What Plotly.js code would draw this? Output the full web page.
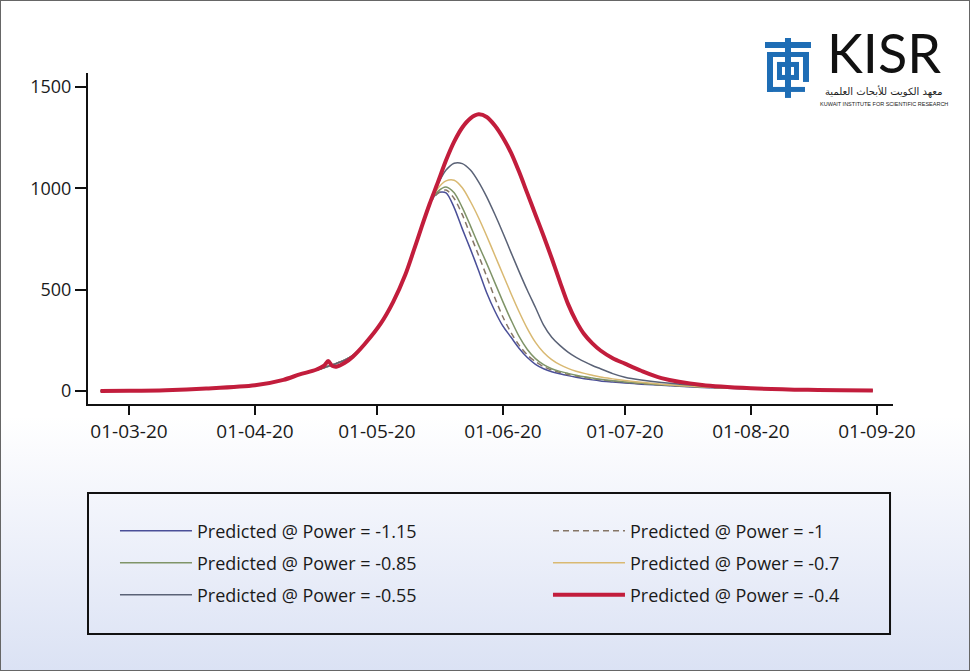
<!DOCTYPE html>
<html><head><meta charset="utf-8">
<script src="https://cdn.plot.ly/plotly-3.0.1.min.js"></script>
<style>
html,body{margin:0;padding:0;}
body{width:970px;height:671px;overflow:hidden;background:linear-gradient(to bottom,#ffffff 0%,#ffffff 62%,#eef1fa 80%,#dbe2f4 100%);}
#chart{position:absolute;left:0;top:0;width:970px;height:671px;}
#frame{position:absolute;left:0;top:0;width:970px;height:671px;box-sizing:border-box;border:1px solid #666;pointer-events:none;}
</style></head>
<body><div id="chart"></div><div id="frame"></div>
<script>
const dates = ['2020-02-23','2020-03-01','2020-03-10','2020-03-20','2020-04-01','2020-04-08','2020-04-12','2020-04-16','2020-04-18','2020-04-19','2020-04-20','2020-04-21','2020-04-23','2020-04-25','2020-04-28','2020-05-02','2020-05-05','2020-05-08','2020-05-10','2020-05-12','2020-05-14','2020-05-16','2020-05-18','2020-05-20','2020-05-22','2020-05-24','2020-05-26','2020-05-28','2020-05-30','2020-06-01','2020-06-03','2020-06-05','2020-06-07','2020-06-09','2020-06-11','2020-06-13','2020-06-15','2020-06-17','2020-06-19','2020-06-21','2020-06-23','2020-06-25','2020-06-28','2020-07-01','2020-07-05','2020-07-10','2020-07-20','2020-08-01','2020-08-15','2020-08-31'];

const powerM115 = [0,1,4,12,28,55,82,103,115,122,129,136,152,175,232,335,440,575,690,810,925, 978,978,905,800,700,595,485,395,320,265,210,165,132,110,95,85,76,68,61,55,50,45,40,34,28,18,10,5,2];
const powerM100 = [0,1,4,12,28,55,82,103,115,122,129,136,152,175,232,335,440,575,690,810,925, 975,992,950,870,770,670,565,460,365,288,225,178,145,120,103,92,82,74,67,61,55,49,43,36,30,19,11,5,2];
const powerM085 = [0,1,4,12,28,55,82,103,115,122,129,136,152,175,232,335,440,575,690,810,925, 985,1007,978,905,815,720,630,535,440,350,268,205,160,130,110,97,87,78,70,64,58,51,45,38,31,20,11,5,2];
const powerM070 = [0,1,4,12,28,55,82,103,115,122,129,136,152,175,232,335,440,575,690,810,925, 1000,1037,1040,1003,935,855,765,670,575,480,390,308,240,190,155,130,112,98,87,78,69,60,52,43,34,21,12,5,2];
const powerM055 = [0,1,4,12,28,55,82,103,115,122,129,136,152,175,232,335,440,575,690,810,925, 1020,1090,1124,1122,1090,1032,958,872,780,683,588,497,412,325,265,225,192,166,145,126,110,86,68,54,42,26,13,6,2];
const powerM040 = [0,1,4,12,28,55,82,105,125,148,124,120,138,168,232,335,440,575,690,810,925, 1030,1138,1230,1300,1345,1365,1352,1310,1250,1175,1080,975,870,765,655,540,430,345,280,235,200,162,135,100,64,30,14,6,3];

const seriesNames = ['Predicted @ Power = -1.15','Predicted @ Power = -1','Predicted @ Power = -0.85','Predicted @ Power = -0.7','Predicted @ Power = -0.55','Predicted @ Power = -0.4'];
const seriesValues = [powerM115, powerM100, powerM085, powerM070, powerM055, powerM040];
const seriesColors = ['#4a4f98','#857566','#7f9468','#d9b972','#5a6276','#c21d3c'];
const seriesWidths = [1.5,1.5,1.5,1.5,1.5,4];
const seriesDash = ['solid','6px,4px','solid','solid','solid','solid'];
const legendIds = ['legend','legend2','legend3','legend4','legend5','legend6'];
const xTickVals = ['2020-03-01','2020-04-01','2020-05-01','2020-06-01','2020-07-01','2020-08-01','2020-09-01'];
const xTickText = ['01-03-20','01-04-20','01-05-20','01-06-20','01-07-20','01-08-20','01-09-20'];
const yTickVals = [0,500,1000,1500];

const traces = seriesNames.map((n,i)=>({
  x: dates, y: seriesValues[i], type:'scatter', mode:'lines', name:n,
  line:{color:seriesColors[i], width:seriesWidths[i], dash:seriesDash[i], shape:'spline', smoothing:0.8},
  legend: legendIds[i], hoverinfo:'skip'
}));

const legendFont = {family:'Open Sans, sans-serif', size:18, color:'#1a1a1a'};
const colX = [0.0335, 0.5714];
const rowY = [-0.3837, -0.4804, -0.5770];
function mkLegend(col,row){
  return {x:colX[col], y:rowY[row], xanchor:'left', yanchor:'middle', orientation:'h',
          bgcolor:'rgba(0,0,0,0)', borderwidth:0, font:legendFont, itemwidth:72};
}

const svg = "<svg xmlns='http://www.w3.org/2000/svg' viewBox='0 0 50 60'><g fill='#1e6db5'>"+
 "<rect x='2' y='4' width='46' height='6'/><rect x='22' y='0' width='6' height='60'/>"+
 "<rect x='4' y='14' width='6' height='40'/><rect x='40' y='14' width='6' height='30'/>"+
 "<rect x='10' y='14' width='36' height='5'/><rect x='14' y='24' width='22' height='5'/>"+
 "<rect x='14' y='24' width='5' height='18'/><rect x='31' y='24' width='5' height='18'/>"+
 "<rect x='14' y='37' width='22' height='5'/><rect x='4' y='49' width='38' height='5'/></g></svg>";

const layout = {
  width:970, height:671,
  margin:{l:88, r:77, t:73, b:267},
  paper_bgcolor:'rgba(0,0,0,0)', plot_bgcolor:'rgba(0,0,0,0)',
  font:{family:'Open Sans, sans-serif', color:'#1a1a1a'},
  xaxis:{type:'date', range:['2020-02-19 22:00','2020-09-04 23:00'], tickmode:'array', tickvals:xTickVals, ticktext:xTickText,
         showgrid:false, zeroline:false, showline:true, linecolor:'#111', linewidth:2, ticks:'outside', ticklen:9, tickwidth:2, tickcolor:'#111',
         tickfont:{family:'Open Sans, sans-serif', size:19, color:'#1a1a1a'}},
  yaxis:{range:[-64,1569], tickmode:'array', tickvals:yTickVals, showgrid:false, zeroline:false, showline:true, linecolor:'#111', linewidth:2,
         ticks:'outside', ticklen:11, tickwidth:2, tickcolor:'#111', tickfont:{family:'Open Sans, sans-serif', size:18, color:'#1a1a1a'}},
  legend:mkLegend(0,0), legend2:mkLegend(1,0), legend3:mkLegend(0,1), legend4:mkLegend(1,1), legend5:mkLegend(0,2), legend6:mkLegend(1,2),
  shapes:[{type:'rect', xref:'paper', yref:'paper', x0:0, x1:0.9963, y0:-0.6949, y1:-0.2689, line:{color:'#111', width:2}, fillcolor:'rgba(0,0,0,0)'}],
  images:[{source:'data:image/svg+xml;utf8,'+encodeURIComponent(svg), xref:'paper', yref:'paper', x:0.8385, y:1.1057, sizex:0.0621, sizey:0.181, sizing:'stretch', xanchor:'left', yanchor:'top'}],
  annotations:[
    {text:'KISR', xref:'paper', yref:'paper', x:0.9888, y:1.0634, showarrow:false, xanchor:'center', yanchor:'middle', font:{family:'Lato, sans-serif', size:54, color:'#111'}},
    {text:'معهد الكويت للأبحاث العلمية', xref:'paper', yref:'paper', x:0.9888, y:0.9456, showarrow:false, xanchor:'center', yanchor:'middle', font:{family:'DejaVu Sans, sans-serif', size:10, color:'#222'}},
    {text:'KUWAIT INSTITUTE FOR SCIENTIFIC RESEARCH', xref:'paper', yref:'paper', x:0.9888, y:0.9074, showarrow:false, xanchor:'center', yanchor:'middle', font:{family:'Liberation Sans, sans-serif', size:5.5, color:'#222'}}
  ],
  showlegend:true
};

Plotly.newPlot('chart', traces, layout, {displayModeBar:false, staticPlot:true});
</script>
</body></html>
